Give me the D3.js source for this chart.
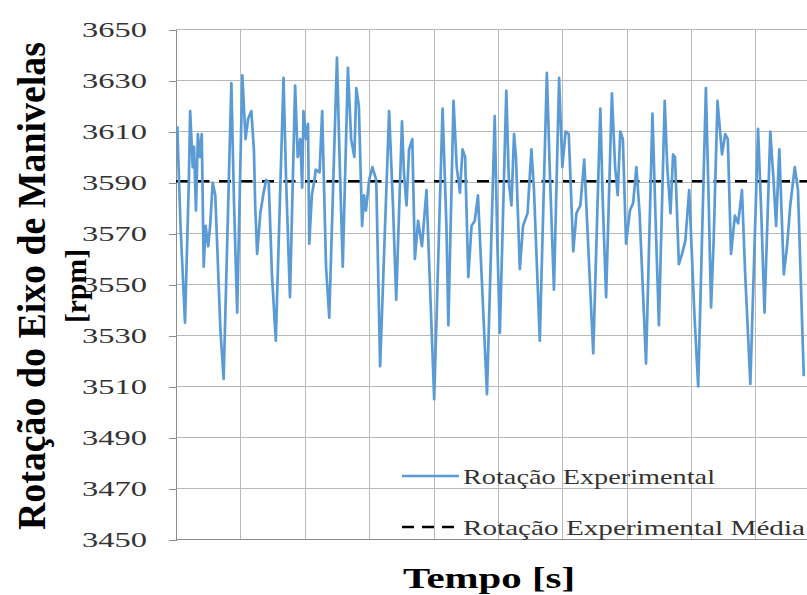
<!DOCTYPE html>
<html>
<head>
<meta charset="utf-8">
<script src="https://cdn.jsdelivr.net/npm/d3@7"></script>
<style>
    body { margin: 0; background: #fff; }
    #chart-area { width: 807px; height: 595px; }
    .grid line { stroke: #b8b8b8; stroke-width: 1; shape-rendering: crispEdges; }
    .axis path, .axis line { stroke: #8c8c8c; shape-rendering: crispEdges; }
    .axis text { font-family: "Liberation Serif", "Times New Roman", serif; font-size: 22px; fill: #333; }
    .legend text { font-family: "Liberation Serif", "Times New Roman", serif; font-size: 22px; fill: #333; }
    .axis-title { font-family: "Liberation Serif", "Times New Roman", serif; font-weight: bold; fill: #000; }
</style>
</head>
<body>
<div id="chart-area"></div>
<script>

// tempo [s] (no labels on the x axis, grid every 0.1 s)
const tempo = [
    0.002, 0.007, 0.014, 0.020, 0.022, 0.026, 0.028, 0.031, 0.034, 0.037, 0.040, 0.043, 0.046, 0.050, 0.053, 0.057, 0.061, 0.069, 0.074, 0.086,
    0.090, 0.095, 0.103, 0.108, 0.112, 0.117, 0.121, 0.123, 0.126, 0.131, 0.136, 0.140, 0.144, 0.149, 0.155,
    0.167, 0.171, 0.177, 0.185, 0.189, 0.193, 0.196, 0.198, 0.202, 0.205, 0.207, 0.211, 0.215, 0.217, 0.223, 0.227, 0.233, 0.238, 0.250, 0.254,
    0.259, 0.267, 0.272, 0.277, 0.280, 0.284, 0.289, 0.292, 0.295, 0.300, 0.305, 0.311,
    0.317, 0.331, 0.337, 0.342, 0.351, 0.354, 0.358, 0.362, 0.367, 0.371, 0.376, 0.382, 0.389, 0.401, 0.414, 0.420, 0.423, 0.431, 0.436, 0.441,
    0.445, 0.449, 0.454, 0.459, 0.464, 0.469,
    0.483, 0.495, 0.499, 0.503, 0.513, 0.517, 0.521, 0.525, 0.528, 0.534, 0.539, 0.546, 0.552, 0.556, 0.565, 0.576, 0.581, 0.587, 0.595, 0.600,
    0.605, 0.610, 0.617, 0.622, 0.628, 0.634,
    0.648, 0.659, 0.663, 0.668, 0.677, 0.682, 0.686, 0.690, 0.694, 0.699, 0.705, 0.710, 0.715, 0.720, 0.730, 0.740, 0.745, 0.750, 0.759, 0.763,
    0.768, 0.772, 0.775, 0.781, 0.786, 0.791, 0.797,
    0.805, 0.811, 0.823, 0.827, 0.831, 0.835, 0.841, 0.848, 0.853, 0.857, 0.862, 0.868, 0.873, 0.879, 0.884, 0.892, 0.904, 0.909, 0.914, 0.923,
    0.928, 0.932, 0.937, 0.944, 0.949, 0.954, 0.961, 0.966, 0.975
];

// rotação experimental [rpm]
const rotacao = [
    3612, 3573, 3535, 3591, 3618, 3596, 3604, 3579, 3609, 3600, 3609, 3557, 3573, 3565, 3573, 3590, 3585, 3532, 3513, 3629,
    3583, 3539, 3632, 3607, 3615, 3618, 3603, 3581, 3562, 3578, 3586, 3591, 3590, 3554, 3528,
    3631, 3591, 3545, 3628, 3600, 3607, 3588, 3618, 3607, 3613, 3566, 3585, 3591, 3595, 3594, 3618, 3557, 3537, 3639, 3600,
    3557, 3635, 3607, 3600, 3627, 3620, 3573, 3585, 3579, 3591, 3596, 3591,
    3518, 3618, 3581, 3544, 3614, 3594, 3581, 3603, 3607, 3560, 3575, 3565, 3587, 3505, 3619, 3573, 3534, 3622, 3596, 3586,
    3603, 3600, 3553, 3573, 3575, 3585,
    3507, 3616, 3567, 3531, 3626, 3590, 3581, 3609, 3600, 3556, 3573, 3578, 3603, 3587, 3528, 3633, 3591, 3548, 3631, 3596,
    3610, 3609, 3563, 3578, 3581, 3599,
    3523, 3619, 3581, 3545, 3625, 3596, 3585, 3610, 3607, 3566, 3579, 3582, 3596, 3578, 3519, 3617, 3574, 3534, 3622, 3596,
    3578, 3601, 3600, 3558, 3562, 3567, 3587,
    3539, 3510, 3627, 3586, 3541, 3567, 3622, 3601, 3609, 3607, 3562, 3577, 3574, 3587, 3554, 3511, 3611, 3578, 3539, 3610,
    3591, 3573, 3603, 3554, 3565, 3581, 3596, 3587, 3514
];

// rotação experimental média [rpm]
const rotacaoMedia = 3590.5;

const yTicks = [3450, 3470, 3490, 3510, 3530, 3550, 3570, 3590, 3610, 3630, 3650];
const xGrid = [0, 0.1, 0.2, 0.3, 0.4, 0.5, 0.6, 0.7, 0.8, 0.9];
const legendLabels = ["Rotação Experimental", "Rotação Experimental Média"];


class RotationChart {

    constructor(parentElement) {
        this.parentElement = parentElement;
        this.displayData = tempo.map((t, i) => ({t: t, rpm: rotacao[i]}));
        this.initVis();
    }

    initVis() {
        let vis = this;

        vis.margin = {top: 29.5, right: 0, bottom: 55.5, left: 176};
        vis.width = 807 - vis.margin.left - vis.margin.right;
        vis.height = 595 - vis.margin.top - vis.margin.bottom;

        vis.root = d3.select("#" + vis.parentElement).append("svg")
            .attr("width", 807)
            .attr("height", 595);

        vis.svg = vis.root.append("g")
            .attr("transform", "translate(" + vis.margin.left + "," + vis.margin.top + ")");

        // scales
        vis.x = d3.scaleLinear()
            .domain([0, 0.98])
            .range([0, vis.width]);

        vis.y = d3.scaleLinear()
            .domain([3450, 3650])
            .range([vis.height, 0]);

        vis.updateVis();
    }

    updateVis() {
        let vis = this;

        // grid lines
        vis.svg.append("g")
            .attr("class", "grid")
            .selectAll("line.h")
            .data(yTicks)
            .enter().append("line")
            .attr("class", "h")
            .attr("x1", 0)
            .attr("x2", vis.width)
            .attr("y1", d => vis.y(d))
            .attr("y2", d => vis.y(d));

        vis.svg.append("g")
            .attr("class", "grid")
            .selectAll("line.v")
            .data(xGrid)
            .enter().append("line")
            .attr("class", "v")
            .attr("x1", d => Math.round(vis.x(d)) + 0.5)
            .attr("x2", d => Math.round(vis.x(d)) + 0.5)
            .attr("y1", 0)
            .attr("y2", vis.height);

        // y axis
        vis.yAxis = d3.axisLeft(vis.y)
            .tickValues(yTicks)
            .tickSize(7)
            .tickPadding(22)
            .tickFormat(d3.format("d"));

        vis.svg.append("g")
            .attr("class", "axis y-axis")
            .call(vis.yAxis)
            .selectAll("text")
            .attr("textLength", 65)
            .attr("lengthAdjust", "spacingAndGlyphs");

        // x axis line only
        vis.svg.append("line")
            .attr("x1", 0)
            .attr("x2", vis.width)
            .attr("y1", vis.height)
            .attr("y2", vis.height)
            .attr("stroke", "#8c8c8c")
            .style("shape-rendering", "crispEdges");

        // mean line
        vis.svg.append("line")
            .attr("x1", 0)
            .attr("x2", vis.width)
            .attr("y1", vis.y(rotacaoMedia))
            .attr("y2", vis.y(rotacaoMedia))
            .attr("stroke", "#000")
            .attr("stroke-width", 2.5)
            .attr("stroke-dasharray", "12,9.5");

        // experimental rotation
        vis.line = d3.line()
            .x(d => vis.x(d.t))
            .y(d => vis.y(d.rpm));

        vis.svg.append("path")
            .datum(vis.displayData)
            .attr("fill", "none")
            .attr("stroke", "#5b9bd5")
            .attr("stroke-width", 2.7)
            .attr("stroke-linejoin", "round")
            .attr("d", vis.line);

        // legend
        let legend = vis.root.append("g").attr("class", "legend");
        let rows = [
            {label: legendLabels[0], y: 476, color: "#5b9bd5", dash: null, len: 252},
            {label: legendLabels[1], y: 527, color: "#000", dash: "12,8", len: 342}
        ];
        rows.forEach(r => {
            legend.append("line")
                .attr("x1", 402).attr("x2", 459)
                .attr("y1", r.y).attr("y2", r.y)
                .attr("stroke", r.color)
                .attr("stroke-width", 2.5)
                .attr("stroke-dasharray", r.dash);
            legend.append("text")
                .attr("x", 463)
                .attr("y", r.y + 7.5)
                .attr("textLength", r.len)
                .attr("lengthAdjust", "spacingAndGlyphs")
                .text(r.label);
        });

        // axis titles
        vis.root.append("text")
            .attr("class", "axis-title")
            .attr("transform", "translate(45,286) scale(1.15,1) rotate(-90)")
            .attr("text-anchor", "middle")
            .attr("textLength", 488)
            .attr("lengthAdjust", "spacingAndGlyphs")
            .style("font-size", "35px")
            .text("Rotação do Eixo de Manivelas");

        vis.root.append("text")
            .attr("class", "axis-title")
            .attr("transform", "translate(86,286) rotate(-90)")
            .attr("text-anchor", "middle")
            .attr("textLength", 74)
            .attr("lengthAdjust", "spacingAndGlyphs")
            .style("font-size", "29px")
            .text("[rpm]");

        vis.root.append("text")
            .attr("class", "axis-title")
            .attr("x", 489)
            .attr("y", 588)
            .attr("text-anchor", "middle")
            .attr("textLength", 172)
            .attr("lengthAdjust", "spacingAndGlyphs")
            .style("font-size", "30px")
            .text("Tempo [s]");
    }
}

let rotationChart = new RotationChart("chart-area");

</script>
</body>
</html>
